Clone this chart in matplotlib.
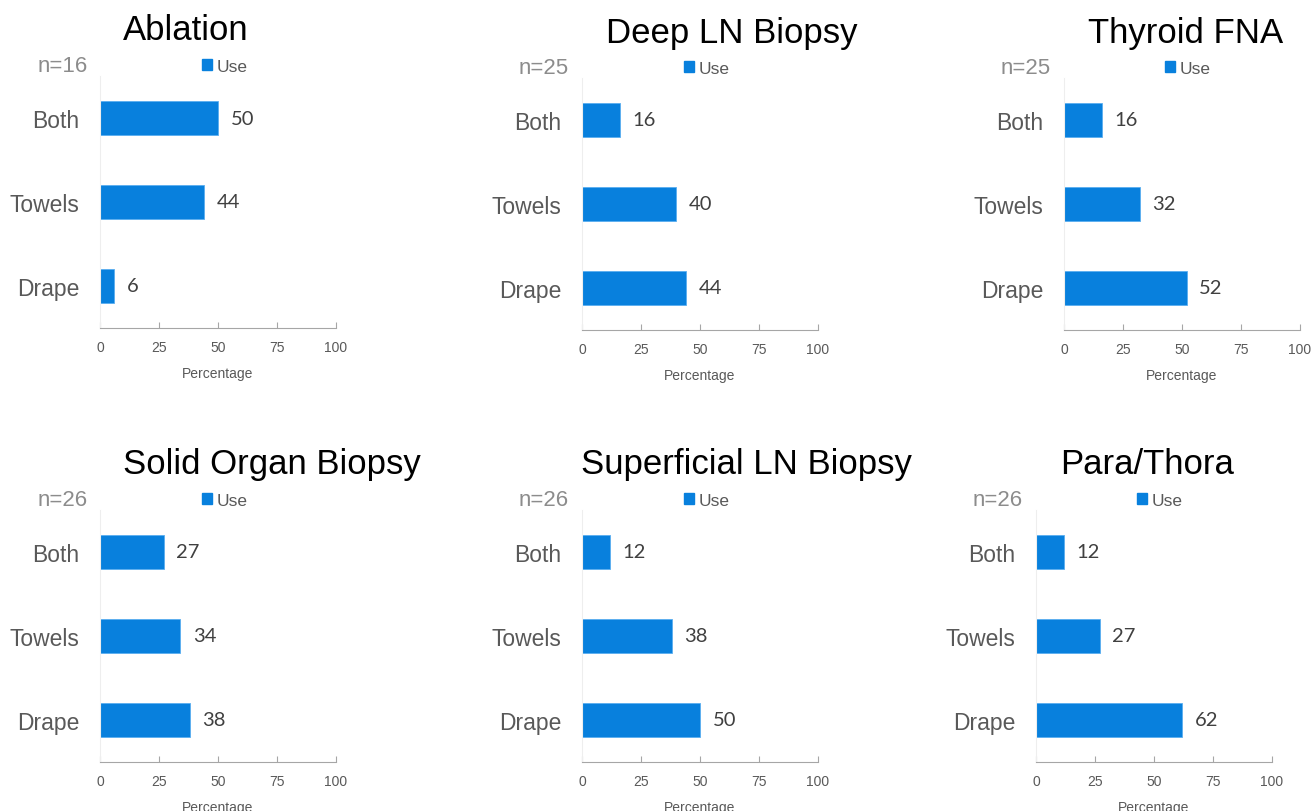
import matplotlib.pyplot as plt
from matplotlib.patches import Patch

# Data
procedures = ['Ablation', 'Deep LN Biopsy', 'Thyroid FNA',
              'Solid Organ Biopsy', 'Superficial LN Biopsy', 'Para/Thora']
sample_sizes = [16, 25, 25, 26, 26, 26]
categories = ['Both', 'Towels', 'Drape']
use_pct = [
    [50, 44, 6],
    [16, 40, 44],
    [16, 32, 52],
    [27, 34, 38],
    [12, 38, 50],
    [12, 27, 62],
]
x_ticks = [0, 25, 50, 75, 100]

W, H = 1312, 812
BLUE = '#0880DD'

# pixel layout of each panel: axes left, axes bottom line y, title centre x, n label x, legend x
layout = [
    (100, 329, 186, 88, 202),
    (582, 331, 732, 569, 684),
    (1064, 331, 1186, 1051, 1165),
    (100, 763, 272, 88, 202),
    (582, 763, 746, 569, 684),
    (1036, 763, 1147, 1023, 1137),
]
ax_w, ax_h = 236, 252

fig = plt.figure(figsize=(W / 100, H / 100), dpi=100)
plt.rcParams['font.family'] = ['Liberation Sans', 'DejaVu Sans']

for i, name in enumerate(procedures):
    left, base, tx, nx, lx = layout[i]
    top = base - ax_h
    ax = fig.add_axes([left / W, 1 - base / H, ax_w / W, ax_h / H])

    ypos = list(range(len(categories)))[::-1]
    bars = ax.barh(ypos, use_pct[i], height=0.4, color=BLUE,
                   edgecolor='#5aaef0', linewidth=0.6, label='Use')
    ax.bar_label(bars, labels=[str(v) for v in use_pct[i]], padding=9,
                 fontsize=14.5, color='#404040', family='Lato')

    ax.set_xlim(0, 100)
    ax.set_ylim(-0.5, len(categories) - 0.5)
    ax.set_xticks(x_ticks)
    ax.set_xticklabels([str(t) for t in x_ticks], fontsize=10, color='#595959')
    ax.set_yticks(ypos)
    ax.set_yticklabels(categories, fontsize=16.5, color='#595959')
    ax.tick_params(axis='y', length=0, pad=15)
    ax.tick_params(axis='x', direction='in', length=4, color='#a6a6a6', pad=9)
    ax.set_xlabel('Percentage', fontsize=10, color='#595959', labelpad=8)

    for s in ['top', 'right']:
        ax.spines[s].set_visible(False)
    ax.spines['bottom'].set_color('#a6a6a6')
    ax.spines['left'].set_color('#eeeeee')

    # title, n label and legend
    fig.text(tx / W, 1 - (top - 46) / H, name, fontsize=25, ha='center', va='center')
    fig.text(nx / W, 1 - (top - 10) / H, f'n={sample_sizes[i]}', fontsize=16,
             color='#8c8c8c', ha='right', va='center')
    ax.legend(handles=[Patch(color=BLUE, label='Use')], loc='center left',
              bbox_to_anchor=(lx / W, 1 - (top - 10) / H), bbox_transform=fig.transFigure,
              frameon=False, fontsize=12.5, handlelength=0.6, handleheight=0.6,
              handletextpad=0.25, borderpad=0, borderaxespad=0, labelcolor='#595959')

fig.savefig('out.png', dpi=100)
